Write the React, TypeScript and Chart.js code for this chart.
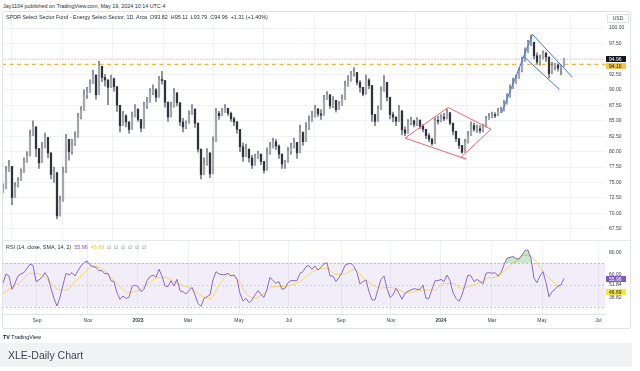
import React, { useEffect, useRef } from 'react';
import { Chart, registerables } from 'chart.js';

Chart.register(...registerables);

const FONT = '"Liberation Sans", Arial, sans-serif';

// ---------- data (one candle per ~2.4 trading days) ----------
const firstOpen = 73.6;
const closes = [
  74.0, 76.8, 77.6, 72.6, 74.3, 75.3, 76.6, 78.3, 79.3, 82.6,
  84.0, 80.5, 78.2, 80.6, 82.3, 79.8, 76.3, 76.6, 69.6, 72.0,
  76.6, 82.0, 80.0, 81.0, 82.3, 85.5, 86.7, 89.2, 89.6, 91.0,
  92.4, 89.2, 93.8, 92.0, 91.6, 90.4, 91.8, 90.5, 87.5, 84.2,
  85.8, 84.8, 83.6, 85.6, 86.9, 85.2, 83.8, 87.4, 88.0, 89.6,
  90.0, 88.8, 91.6, 91.5, 88.0, 85.6, 87.2, 89.5, 87.9, 84.8,
  84.0, 84.6, 86.0, 86.9, 84.6, 80.4, 76.3, 78.0, 79.8, 76.4,
  81.6, 86.2, 85.8, 86.3, 87.0, 86.2, 85.3, 84.8, 83.6, 80.8,
  79.2, 80.4, 79.0, 77.8, 79.0, 79.6, 78.4, 77.0, 79.6, 80.6,
  81.6, 80.9, 79.6, 78.0, 78.3, 80.0, 80.6, 81.5, 79.8, 83.1,
  81.6, 83.6, 84.9, 85.6, 86.9, 86.1, 85.9, 88.4, 89.2, 87.4,
  88.3, 86.8, 87.5, 88.5, 90.6, 91.5, 92.6, 92.8, 91.2, 90.4,
  89.3, 91.6, 90.7, 86.0, 84.9, 86.8, 89.8, 91.2, 88.8, 86.0,
  85.6, 84.9, 86.6, 83.5, 83.0, 84.6, 85.0, 84.4, 85.1, 84.1,
  83.6, 82.6, 82.0, 81.3, 85.0, 84.9, 85.6, 85.3, 86.3, 84.6,
  83.3, 82.1, 81.0, 79.9, 81.4, 82.6, 84.2, 83.6, 83.7, 83.4,
  84.0, 85.3, 85.6, 85.9, 85.8, 86.4, 86.6, 87.7, 88.8, 90.2,
  91.0, 91.8, 93.1, 94.6, 96.0, 97.6, 97.7, 95.5, 94.5, 95.0,
  95.9, 95.3, 92.6, 93.8, 94.0, 93.5, 93.82, 94.96,
];
const highs = [
  74.8, 77.6, 78.6, 76.5, 75.0, 75.8, 77.2, 79.0, 80.0, 83.5,
  85.0, 83.4, 79.5, 81.5, 83.0, 81.5, 78.0, 77.5, 71.8, 72.8,
  77.5, 82.8, 82.0, 82.0, 83.2, 86.2, 87.3, 90.0, 90.4, 91.6,
  93.2, 91.5, 94.6, 93.4, 92.5, 91.0, 92.4, 91.9, 90.0, 86.0,
  86.5, 86.0, 84.4, 86.4, 87.6, 86.6, 85.0, 88.0, 88.8, 90.2,
  90.8, 90.2, 92.2, 93.0, 89.8, 86.6, 88.0, 90.2, 88.6, 86.0,
  85.4, 85.0, 86.6, 87.6, 85.8, 82.6, 78.9, 79.0, 80.5, 78.8,
  82.4, 87.0, 86.5, 87.0, 87.6, 87.0, 86.4, 85.6, 84.9, 82.3,
  81.4, 81.2, 80.0, 79.4, 79.6, 80.1, 79.6, 78.4, 80.6, 81.5,
  82.2, 82.0, 81.1, 79.4, 78.6, 80.7, 81.4, 82.2, 81.4, 84.3,
  83.2, 84.7, 85.8, 86.5, 87.5, 87.0, 86.8, 89.1, 89.7, 88.6,
  88.9, 87.9, 88.1, 89.2, 91.4, 92.3, 93.0, 93.6, 92.5, 91.5,
  90.2, 92.4, 91.8, 88.0, 85.8, 87.4, 90.5, 92.3, 89.9, 87.0,
  86.4, 85.4, 87.5, 84.4, 84.0, 85.2, 85.6, 85.1, 85.5, 84.9,
  84.4, 83.6, 82.9, 82.2, 85.5, 85.7, 86.0, 86.2, 86.9, 85.8,
  84.0, 83.1, 81.8, 80.6, 82.0, 83.3, 84.8, 84.6, 84.3, 84.2,
  84.4, 85.7, 86.2, 86.4, 86.3, 87.0, 87.2, 88.3, 89.4, 90.8,
  91.9, 92.4, 93.5, 95.3, 96.8, 98.0, 98.9, 97.4, 96.0, 95.6,
  96.3, 96.1, 94.5, 94.5, 94.3, 94.2, 94.0, 95.11,
];
const lows = [
  73.4, 75.0, 76.9, 71.4, 72.8, 74.4, 75.5, 77.0, 78.6, 80.8,
  83.0, 79.2, 77.3, 79.0, 81.0, 79.0, 75.6, 75.0, 69.1, 70.5,
  75.3, 80.2, 78.6, 79.6, 81.5, 84.0, 85.3, 88.0, 88.6, 89.6,
  91.5, 88.5, 92.6, 91.3, 90.6, 87.6, 90.6, 89.8, 86.5, 83.2,
  84.2, 84.0, 83.0, 84.7, 85.8, 84.9, 83.2, 86.2, 87.0, 88.6,
  89.2, 88.1, 90.4, 90.9, 87.2, 84.9, 86.6, 88.6, 87.4, 84.2,
  83.2, 83.7, 84.8, 86.1, 83.9, 79.9, 75.6, 76.6, 77.8, 75.8,
  80.8, 84.8, 85.2, 85.8, 86.3, 85.8, 84.9, 84.2, 83.0, 80.0,
  78.4, 79.5, 78.3, 77.3, 78.4, 78.9, 77.9, 76.5, 78.9, 79.9,
  80.9, 80.3, 78.9, 77.3, 77.3, 78.9, 79.6, 80.6, 78.9, 82.1,
  81.0, 83.2, 84.3, 85.2, 85.8, 85.7, 85.2, 87.5, 88.5, 87.0,
  87.1, 86.4, 87.0, 88.0, 90.0, 90.8, 91.4, 92.2, 90.8, 89.6,
  89.0, 90.8, 90.2, 84.9, 84.2, 86.0, 89.0, 90.7, 88.2, 85.3,
  84.8, 84.2, 85.9, 82.7, 82.6, 83.8, 84.3, 84.0, 84.2, 83.7,
  83.2, 82.1, 81.6, 81.0, 84.3, 84.5, 84.8, 85.0, 85.5, 84.3,
  82.7, 81.6, 80.5, 79.7, 80.4, 81.9, 83.2, 83.3, 83.1, 83.0,
  83.2, 84.8, 85.2, 85.5, 85.5, 86.1, 86.3, 87.4, 88.3, 89.6,
  90.6, 91.2, 92.3, 92.9, 95.0, 96.8, 97.2, 95.0, 94.2, 94.0,
  95.0, 94.6, 91.9, 93.0, 93.2, 93.0, 92.4, 93.79,
];

// RSI(14) per candle, and its moving average read every 3rd candle
const rsi = [
  51.5, 60.2, 58.3, 46.0, 51.5, 58.3, 60.2, 61.4, 65.4, 69.1,
  68.2, 53.1, 54.6, 57.1, 61.4, 57.1, 46.9, 37.7, 30.6, 38.6,
  50.0, 60.8, 59.2, 61.4, 58.3, 63.2, 67.5, 70.6, 72.2, 68.5,
  66.9, 66.3, 63.2, 63.2, 60.2, 60.8, 54.0, 53.1, 42.9, 36.8,
  39.8, 37.7, 38.6, 48.5, 50.0, 48.5, 43.8, 46.0, 54.0, 57.7,
  59.2, 57.1, 64.5, 58.3, 49.1, 48.5, 54.0, 49.1, 55.2, 44.8,
  43.8, 41.7, 44.8, 47.8, 40.8, 33.1, 30.3, 37.7, 39.2, 40.8,
  54.6, 62.3, 60.2, 59.5, 59.5, 60.8, 58.3, 59.2, 55.2, 42.3,
  35.2, 37.7, 33.7, 36.2, 40.8, 44.8, 41.1, 38.6, 46.0, 57.1,
  54.0, 51.5, 53.1, 46.0, 46.9, 52.2, 54.0, 54.0, 54.0, 60.8,
  62.3, 66.9, 67.8, 64.5, 67.5, 63.8, 66.3, 69.4, 70.6, 58.3,
  58.3, 53.1, 57.1, 61.4, 68.2, 69.4, 70.0, 66.9, 61.4, 50.9,
  53.1, 54.6, 43.8, 36.2, 36.2, 46.0, 55.2, 58.3, 46.9, 38.6,
  40.8, 46.9, 42.3, 36.8, 42.3, 44.2, 45.4, 46.6, 46.0, 46.0,
  50.0, 37.7, 37.7, 46.0, 54.0, 54.0, 55.2, 53.1, 59.2, 54.0,
  42.9, 37.7, 34.9, 40.8, 50.0, 59.2, 58.3, 53.1, 55.2, 53.1,
  50.9, 60.8, 61.4, 60.8, 61.4, 58.3, 61.4, 68.5, 74.6, 75.5,
  76.2, 74.6, 73.7, 77.7, 81.7, 82.3, 74.6, 56.2, 52.2, 58.3,
  62.3, 52.2, 39.2, 43.8, 46.0, 49.1, 50.0, 55.96,
];
const maStep = 3;
const rsiMa = [
  42.3, 47.8, 53.4, 60.8, 60.2, 55.2, 46.3, 45.4, 53.1, 60.8,
  67.5, 64.8, 57.1, 48.5, 42.9, 44.8, 50.0, 56.2, 57.1, 53.1,
  49.4, 46.6, 40.2, 37.4, 49.1, 59.2, 56.2, 42.3, 37.7, 42.3,
  48.5, 48.5, 49.7, 53.1, 59.8, 64.5, 65.4, 59.8, 60.2, 64.5,
  57.1, 50.6, 47.2, 47.8, 45.4, 42.6, 44.5, 45.4, 45.4, 51.5,
  51.5, 46.9, 49.1, 52.5, 56.5, 57.7, 65.4, 71.8, 77.7, 74.0,
  62.3, 54.0, 46.9,
];

// time axis: candle index where each labelled month begins
const monthStarts = [11.33, 28.33, 45, 61.67, 78.67, 95.33, 112.67, 129.33, 146, 163, 179.67, 198.5];
const monthLabels = ['Sep', 'Nov', '2023', 'Mar', 'May', 'Jul', 'Sep', 'Nov', '2024', 'Mar', 'May', 'Jul'];
const priceTicks = [67.5, 70, 72.5, 75, 77.5, 80, 82.5, 85, 87.5, 90, 92.5, 97.5, 100];

const lastClose = 94.96;
const refLevel = 94.1;
const rsiLast = 55.96;
const rsiMaLast = 46.69;
const rsiScaleLabels = [
  { v: 80, text: '80.00' },
  { v: 60, text: '60.00' },
  { v: 51.84, text: '51.84' },
  { v: 38.82, text: '38.82' },
];

// drawn chart patterns (candle index, price)
const diamond = [
  { x: 134.0, y: 82.2 }, { x: 148.4, y: 87.14 }, { x: 162.67, y: 83.62 },
  { x: 152.67, y: 79.08 }, { x: 154.33, y: 78.8 }, { x: 134.0, y: 82.2 },
];
const flagUpper = [{ x: 166.17, y: 86.25 }, { x: 176.5, y: 98.95 }, { x: 189.83, y: 92.02 }];
const flagLower = [{ x: 173.43, y: 95.47 }, { x: 185.43, y: 90.08 }];

// ---------- layout constants ----------
const X_MIN = -0.333;
const X_MAX = 200.67;
const P_MIN = 65.7;
const P_MAX = 102.59;
const R_MIN = 23.27;
const R_MAX = 91.47;
const GRID = '#f1f2f5';
const AXIS_TEXT = '#3b3e47';

function box(ctx: CanvasRenderingContext2D, x: number, yc: number, bg: string, fg: string, text: string) {
  ctx.save();
  ctx.fillStyle = bg;
  ctx.fillRect(x, Math.round(yc - 3), 20, 6);
  ctx.fillStyle = fg;
  ctx.font = `5px ${FONT}`;
  ctx.textBaseline = 'middle';
  ctx.textAlign = 'left';
  ctx.fillText(text, x + 3, Math.round(yc - 3) + 3.2);
  ctx.restore();
}

const zeroPad = (s: any) => {
  s.paddingTop = 0;
  s.paddingBottom = 0;
  s.paddingLeft = 0;
  s.paddingRight = 0;
};

export default function App() {
  const priceRef = useRef<HTMLCanvasElement>(null);
  const rsiRef = useRef<HTMLCanvasElement>(null);

  useEffect(() => {
    const opens = closes.map((_, i) => (i === 0 ? firstOpen : closes[i - 1]));
    const wickData = closes.map((c, i) => ({
      x: i,
      y: [Math.min(lows[i], opens[i], c), Math.max(highs[i], opens[i], c)],
    }));
    const bodyData = closes.map((c, i) => ({ x: i, y: [opens[i], c] }));
    const bodyColors = closes.map((c, i) => (c >= opens[i] ? '#a4a7ae' : '#30333b'));

    const priceLabels = {
      id: 'priceLabels',
      afterDraw(chart: any) {
        const { ctx, chartArea, scales } = chart;
        const y = scales.y;
        const bx = chartArea.right + 1;
        box(ctx, bx, y.getPixelForValue(lastClose), '#131722', '#ffffff', lastClose.toFixed(2));
        box(ctx, bx, y.getPixelForValue(refLevel) + 1.8, '#f7c443', '#131722', refLevel.toFixed(2));
        ctx.save();
        ctx.strokeStyle = '#dfe1e8';
        ctx.lineWidth = 1;
        ctx.strokeRect(607.5, 14.5, 21, 8);
        ctx.fillStyle = AXIS_TEXT;
        ctx.font = `5px ${FONT}`;
        ctx.textAlign = 'center';
        ctx.textBaseline = 'middle';
        ctx.fillText('USD', 618, 18.8);
        ctx.restore();
      },
    };

    const price = new Chart(priceRef.current as HTMLCanvasElement, {
      type: 'bar',
      data: {
        datasets: [
          {
            type: 'line',
            data: [{ x: X_MIN, y: refLevel }, { x: X_MAX, y: refLevel }],
            borderColor: '#f6b431',
            borderWidth: 1.3,
            borderDash: [4, 3.5],
            pointRadius: 0,
            order: 6,
          } as any,
          {
            type: 'line',
            data: [{ x: X_MIN, y: lastClose }, { x: X_MAX, y: lastClose }],
            borderColor: '#c3c5cc',
            borderWidth: 0.8,
            borderDash: [2, 1],
            pointRadius: 0,
            order: 7,
          } as any,
          {
            type: 'bar',
            data: wickData,
            backgroundColor: '#7a7d86',
            barThickness: 1,
            grouped: false,
            order: 4,
          } as any,
          {
            type: 'bar',
            data: bodyData,
            backgroundColor: bodyColors,
            barThickness: 1.6,
            minBarLength: 1,
            grouped: false,
            order: 3,
          } as any,
          {
            type: 'line',
            data: diamond,
            borderColor: '#f2636a',
            borderWidth: 1,
            pointRadius: 0,
            tension: 0,
            order: 1,
          } as any,
          {
            type: 'line',
            data: flagUpper,
            borderColor: '#3d72f0',
            borderWidth: 1,
            pointRadius: 0,
            tension: 0,
            order: 1,
          } as any,
          {
            type: 'line',
            data: flagLower,
            borderColor: '#3d72f0',
            borderWidth: 1,
            pointRadius: 0,
            tension: 0,
            order: 1,
          } as any,
        ],
      },
      options: {
        responsive: false,
        animation: false,
        devicePixelRatio: 1,
        layout: { padding: { left: 2, right: 10, top: 12, bottom: 0 } },
        plugins: { legend: { display: false }, tooltip: { enabled: false } },
        scales: {
          x: {
            type: 'linear',
            min: X_MIN,
            max: X_MAX,
            offset: false,
            grid: { color: GRID, drawTicks: false },
            border: { display: false },
            ticks: { display: false },
            afterBuildTicks: (s: any) => {
              s.ticks = monthStarts.map((v) => ({ value: v }));
            },
            afterFit: (s: any) => {
              s.height = 0;
              zeroPad(s);
            },
          },
          y: {
            position: 'right',
            min: P_MIN,
            max: P_MAX,
            grid: { color: GRID, drawTicks: false },
            border: { display: false },
            ticks: {
              padding: 4,
              color: AXIS_TEXT,
              font: { size: 5, family: FONT },
              callback: (v: any) => Number(v).toFixed(2),
            },
            afterBuildTicks: (s: any) => {
              s.ticks = priceTicks.map((v) => ({ value: v }));
            },
            afterFit: (s: any) => {
              s.width = 25;
              zeroPad(s);
            },
          },
        },
      } as any,
      plugins: [priceLabels],
    });

    const rsiBand = {
      id: 'rsiBand',
      beforeDatasetsDraw(chart: any) {
        const { ctx, chartArea, scales } = chart;
        const y = scales.y;
        const y70 = y.getPixelForValue(70);
        const y30 = y.getPixelForValue(30);
        const y50 = y.getPixelForValue(50);
        ctx.save();
        ctx.fillStyle = 'rgba(126, 87, 194, 0.1)';
        ctx.fillRect(chartArea.left, y70, chartArea.right - chartArea.left, y30 - y70);
        ctx.strokeStyle = 'rgba(120, 123, 134, 0.55)';
        ctx.lineWidth = 0.8;
        ctx.setLineDash([2, 2]);
        [y70, y30].forEach((yy) => {
          ctx.beginPath();
          ctx.moveTo(chartArea.left, Math.round(yy) + 0.5);
          ctx.lineTo(chartArea.right, Math.round(yy) + 0.5);
          ctx.stroke();
        });
        ctx.strokeStyle = 'rgba(120, 123, 134, 0.35)';
        ctx.beginPath();
        ctx.moveTo(chartArea.left, Math.round(y50) + 0.5);
        ctx.lineTo(chartArea.right, Math.round(y50) + 0.5);
        ctx.stroke();
        ctx.setLineDash([]);
        ctx.strokeStyle = '#e0e3eb';
        ctx.beginPath();
        ctx.moveTo(chartArea.left, 0.5);
        ctx.lineTo(630, 0.5);
        ctx.stroke();
        ctx.restore();
      },
      afterDraw(chart: any) {
        const { ctx, chartArea, scales } = chart;
        const y = scales.y;
        ctx.save();
        ctx.font = `5px ${FONT}`;
        ctx.textBaseline = 'middle';
        ctx.textAlign = 'left';
        ctx.fillStyle = AXIS_TEXT;
        rsiScaleLabels.forEach((l) => {
          const off = l.v === 51.84 ? 2 : 0;
          ctx.fillText(l.text, chartArea.right + 4, y.getPixelForValue(l.v) + off);
        });
        ctx.restore();
        box(ctx, chartArea.right + 1, y.getPixelForValue(rsiLast), '#7e57c2', '#ffffff', rsiLast.toFixed(2));
        box(ctx, chartArea.right + 1, y.getPixelForValue(rsiMaLast) + 3, '#f7e63b', '#131722', rsiMaLast.toFixed(2));
      },
    };

    const rsiChart = new Chart(rsiRef.current as HTMLCanvasElement, {
      type: 'line',
      data: {
        datasets: [
          {
            data: rsi.map((v, i) => ({ x: i, y: v })),
            borderColor: '#8a67cc',
            borderWidth: 1,
            pointRadius: 0,
            tension: 0,
            fill: { target: { value: 70 }, above: 'rgba(76, 175, 80, 0.3)', below: 'rgba(0,0,0,0)' },
            order: 1,
          },
          {
            data: rsiMa.map((v, k) => ({ x: k * maStep, y: v })),
            borderColor: '#f5d660',
            borderWidth: 1,
            pointRadius: 0,
            cubicInterpolationMode: 'monotone',
            order: 2,
          },
        ],
      },
      options: {
        responsive: false,
        animation: false,
        devicePixelRatio: 1,
        layout: { padding: { left: 2, right: 10, top: 0, bottom: 14 } },
        plugins: { legend: { display: false }, tooltip: { enabled: false } },
        scales: {
          x: {
            type: 'linear',
            min: X_MIN,
            max: X_MAX,
            offset: false,
            grid: { color: GRID, drawTicks: false },
            border: { display: true, color: '#e0e3eb' },
            ticks: {
              padding: 4,
              color: AXIS_TEXT,
              maxRotation: 0,
              autoSkip: false,
              font: (ctx: any) => ({
                size: 5,
                family: FONT,
                weight: /^\d/.test(monthLabels[ctx.index] || '') ? 'bold' : 'normal',
              }),
              callback: (_v: any, i: number) => monthLabels[i],
            },
            afterBuildTicks: (s: any) => {
              s.ticks = monthStarts.map((v) => ({ value: v }));
            },
            afterFit: (s: any) => {
              s.height = 14;
              zeroPad(s);
            },
          },
          y: {
            position: 'right',
            min: R_MIN,
            max: R_MAX,
            grid: { display: false },
            border: { display: false },
            ticks: { display: false },
            afterFit: (s: any) => {
              s.width = 25;
              zeroPad(s);
            },
          },
        },
      } as any,
      plugins: [rsiBand],
    });

    return () => {
      price.destroy();
      rsiChart.destroy();
    };
  }, []);

  const small: React.CSSProperties = {
    position: 'absolute',
    fontSize: 5.4,
    lineHeight: '6px',
    whiteSpace: 'nowrap',
    fontFamily: FONT,
  };

  return (
    <div style={{ position: 'absolute', left: 0, top: 0, width: 640, height: 371, background: '#ffffff', overflow: 'hidden' }}>
      <div style={{ ...small, left: 3, top: 3, color: '#2a2e39' }}>
        Jay1104 published on TradingView.com, May 19, 2024 10:14 UTC-4
      </div>
      <canvas ref={priceRef} width={640} height={240} style={{ position: 'absolute', left: 0, top: 0 }} />
      <canvas ref={rsiRef} width={640} height={102} style={{ position: 'absolute', left: 0, top: 240 }} />
      <div style={{ ...small, left: 6, top: 14, color: '#2a2e39' }}>
        SPDR Select Sector Fund - Energy Select Sector, 1D, Arca&nbsp; O93.82&nbsp; H95.11&nbsp; L93.79&nbsp; C94.96&nbsp; +1.31 (+1.40%)
      </div>
      <div style={{ ...small, left: 6, top: 244, color: '#2a2e39' }}>
        RSI (14, close, SMA, 14, 2)&nbsp; <span style={{ color: '#7e57c2' }}>55.96</span>&nbsp;{' '}
        <span style={{ color: '#e8c93a' }}>46.69</span>&nbsp;{' '}
        <span style={{ color: '#787b86' }}>∅&nbsp; ∅&nbsp; ∅&nbsp; ∅&nbsp; ∅&nbsp; ∅</span>
      </div>
      <div
        style={{
          position: 'absolute',
          left: 2,
          top: 11,
          width: 627,
          height: 316,
          border: '1px solid #e0e3eb',
          borderRadius: 2,
          pointerEvents: 'none',
        }}
      />
      <div style={{ ...small, left: 3, top: 334, color: '#131722' }}>
        <b>TV</b> TradingView
      </div>
      <div
        style={{
          position: 'absolute',
          left: 0,
          top: 343,
          width: 632,
          height: 24,
          background: '#f1f2f4',
          fontFamily: FONT,
          fontSize: 10.5,
          lineHeight: '24px',
          color: '#434651',
          paddingLeft: 8,
          boxSizing: 'border-box',
        }}
      >
        XLE-Daily Chart
      </div>
    </div>
  );
}
